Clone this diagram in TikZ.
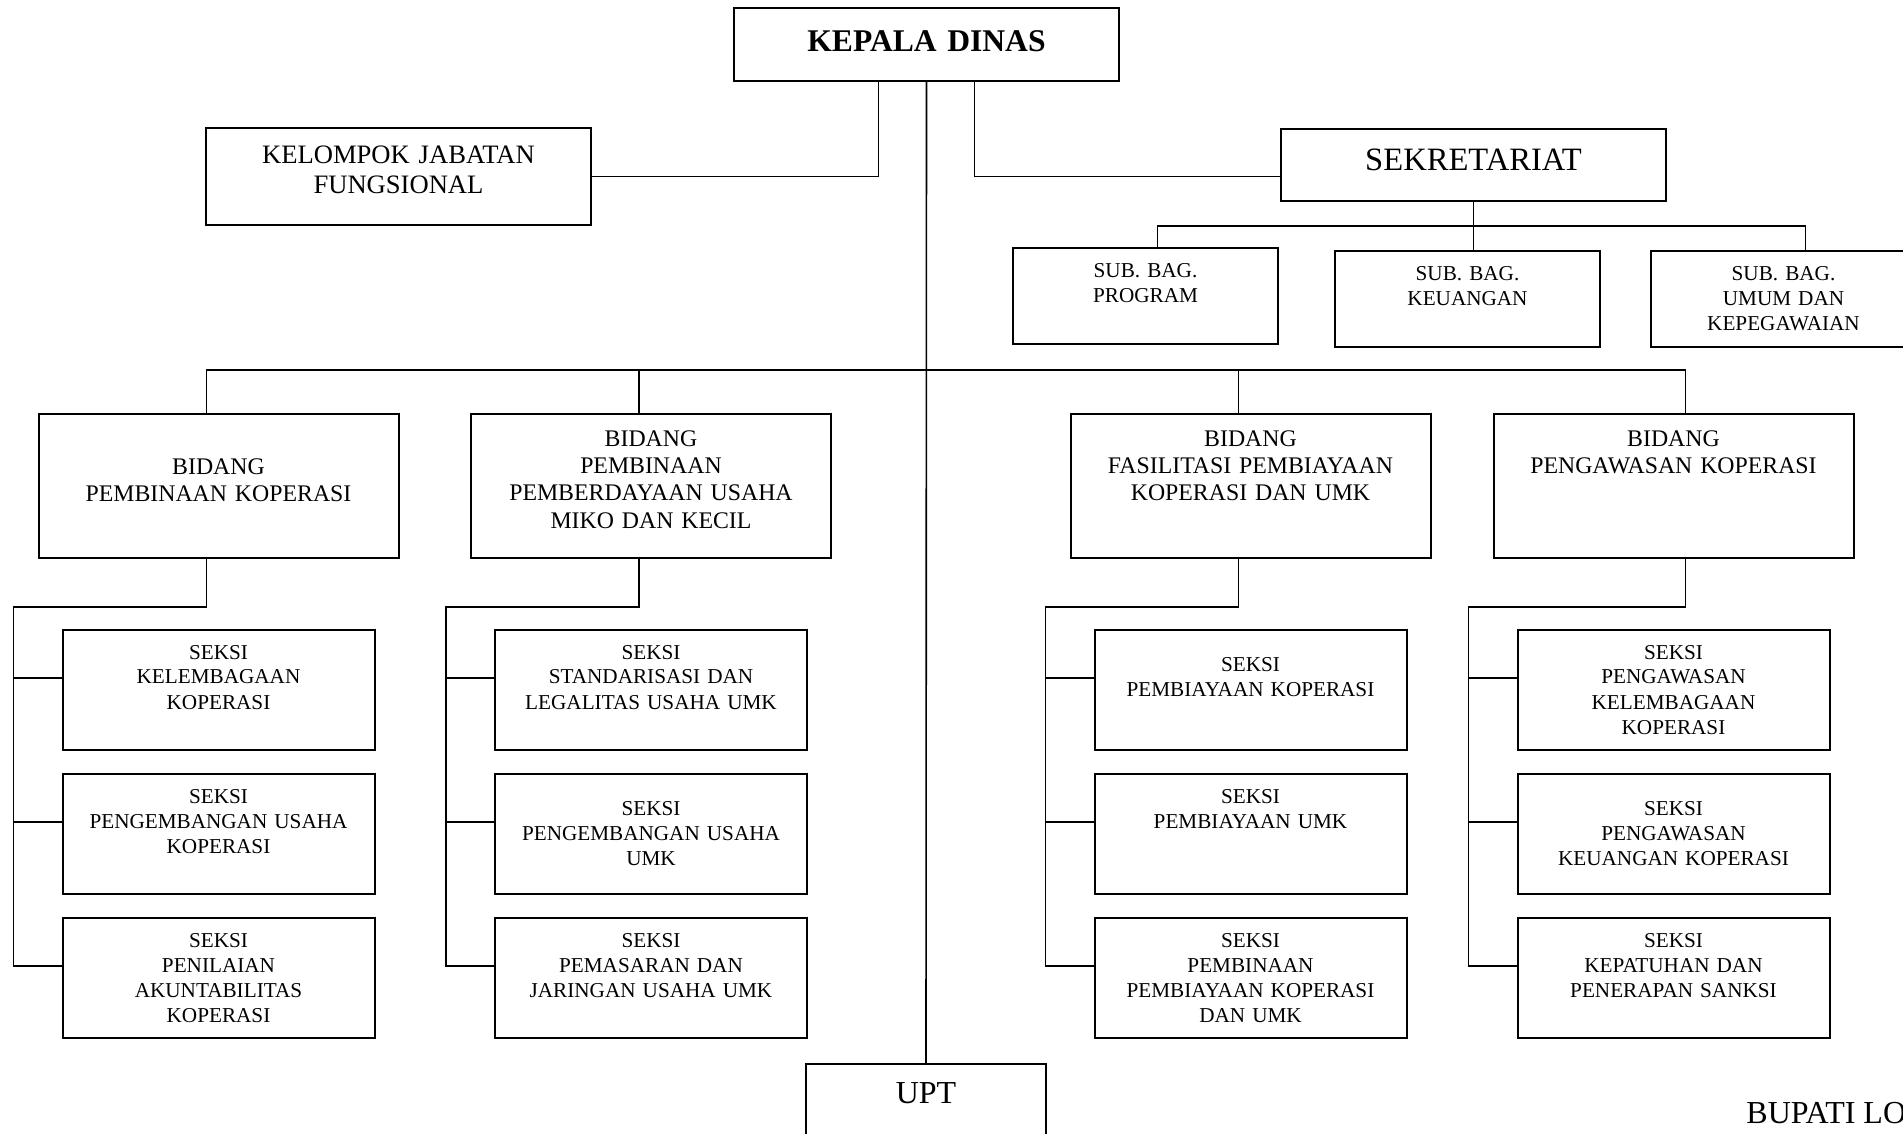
\documentclass[tikz,border=0pt]{standalone}
\usepackage{fontspec}
\setmainfont{Liberation Serif}
\begin{document}
\begin{tikzpicture}[x=0.5pt,y=-0.5pt,line cap=butt,line join=miter,
	kotak/.style={draw,line width=1pt,inner xsep=2pt,inner ysep=0pt,align=center},
	garis/.style={line width=0.8pt},
	seksi/.style={kotak,text width=152pt,text height=14.5pt,text depth=45.5pt,font=\fontsize{10.6}{12.5}\selectfont},
	turun/.style={text height=20.5pt,text depth=39.5pt},
	bidang/.style={kotak,text width=176pt,text height=16pt,text depth=56pt,font=\fontsize{11.9}{13.75}\selectfont},
	subbag/.style={kotak,text width=128.5pt,text height=15pt,text depth=33pt,font=\fontsize{10.6}{12.5}\selectfont}]
	\useasboundingbox (0,0) rectangle (1903,1134);
	\clip (0,0) rectangle (1903,1134);
	
	\node[kotak,text width=188.5pt,text height=22pt,text depth=14.5pt,font=\fontsize{15.8}{18}\selectfont\bfseries] (kd) at (926.5,44.5) {KEPALA DINAS};
	\node[kotak,text width=188.5pt,text height=18pt,text depth=30.5pt,font=\fontsize{13.3}{15}\selectfont] (kjf) at (398.5,176.5) {KELOMPOK JABATAN\\FUNGSIONAL};
	\node[kotak,text width=188.5pt,text height=21pt,text depth=15pt,font=\fontsize{16.3}{19}\selectfont] (sek) at (1473.5,165) {SEKRETARIAT};
	
	\node[subbag] (pg) at (1145.5,296) {SUB. BAG.\\PROGRAM};
	\node[subbag] (ku) at (1467.5,299) {SUB. BAG.\\KEUANGAN};
	\node[subbag] (um) at (1783.5,299) {SUB. BAG.\\UMUM DAN\\KEPEGAWAIAN};
	
	\node[bidang,text height=30pt,text depth=42pt] (b1) at (218.5,486) {BIDANG\\PEMBINAAN KOPERASI};
	\node[bidang] (b2) at (651,486) {BIDANG\\PEMBINAAN\\PEMBERDAYAAN USAHA\\MIKO DAN KECIL};
	\node[bidang] (b3) at (1250.5,486) {BIDANG\\FASILITASI PEMBIAYAAN\\KOPERASI DAN UMK};
	\node[bidang] (b4) at (1673.5,486) {BIDANG\\PENGAWASAN KOPERASI};
	
	\node[seksi] (s11) at (218.5,690) {SEKSI\\KELEMBAGAAN\\KOPERASI};
	\node[seksi] (s12) at (218.5,834) {SEKSI\\PENGEMBANGAN USAHA\\KOPERASI};
	\node[seksi] (s13) at (218.5,978) {SEKSI\\PENILAIAN\\AKUNTABILITAS\\KOPERASI};
	\node[seksi] (s21) at (651,690) {SEKSI\\STANDARISASI DAN\\LEGALITAS USAHA UMK};
	\node[seksi,turun] (s22) at (651,834) {SEKSI\\PENGEMBANGAN USAHA\\UMK};
	\node[seksi] (s23) at (651,978) {SEKSI\\PEMASARAN DAN\\JARINGAN USAHA UMK};
	\node[seksi,turun] (s31) at (1250.5,690) {SEKSI\\PEMBIAYAAN KOPERASI};
	\node[seksi] (s32) at (1250.5,834) {SEKSI\\PEMBIAYAAN UMK};
	\node[seksi] (s33) at (1250.5,978) {SEKSI\\PEMBINAAN\\PEMBIAYAAN KOPERASI\\DAN UMK};
	\node[seksi] (s41) at (1673.5,690) {SEKSI\\PENGAWASAN\\KELEMBAGAAN\\KOPERASI};
	\node[seksi,turun] (s42) at (1673.5,834) {SEKSI\\PENGAWASAN\\KEUANGAN KOPERASI};
	\node[seksi] (s43) at (1673.5,978) {SEKSI\\KEPATUHAN DAN\\PENERAPAN SANKSI};
	
	\node[kotak,text width=116pt,text height=19.5pt,text depth=28.5pt,font=\fontsize{16}{19}\selectfont] (upt) at (926,1112) {UPT};
	\node[anchor=base west,inner sep=0pt,font=\fontsize{16}{19}\selectfont] (bupati) at (1746,1123) {BUPATI LO};
	
	\draw[garis] (kd.south) -- (upt.north);
	\draw[garis] ([xshift=-24pt]kd.south) |- (kjf.east);
	\draw[garis] ([xshift=24pt]kd.south) |- (kjf.east -| sek.west);
	
	\path (sek.south) ++(0,-12pt) coordinate (sb);
	\draw[garis] (sek.south) -- (sek.south |- ku.north);
	\draw[garis] ([xshift=6pt]pg.north) |- (sb);
	\draw[garis] ([xshift=11pt]um.north) |- (sb);
	
	\path (kd.south) ++(0,-144pt) coordinate (cabang);
	\foreach \i/\dx in {1/-6,2/-6,3/-6,4/6}{
		\draw[garis] ([xshift=\dx pt]b\i.north) |- (cabang);
		\draw[garis] ([xshift=\dx pt]b\i.south) -- ++(0,-24pt) -| ([xshift=-24pt,yshift=6pt]s\i3.west) -- ([yshift=6pt]s\i3.west);
		\foreach \j in {1,2}
			\draw[garis] ([xshift=-24pt,yshift=6pt]s\i\j.west) -- ([yshift=6pt]s\i\j.west);
	}
\end{tikzpicture}
\end{document}
